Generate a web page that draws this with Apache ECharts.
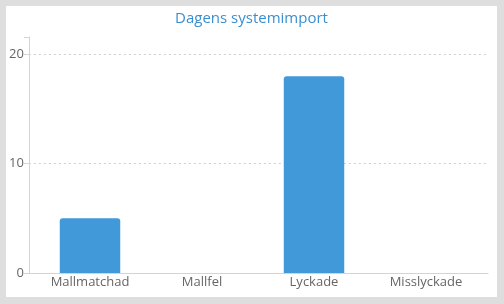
<!DOCTYPE html>
<html><head><meta charset="utf-8">
<script src="https://cdn.jsdelivr.net/npm/echarts@6/dist/echarts.min.js"></script>
<style>
html,body{margin:0;padding:0;background:#fff;}
#wrap{width:504px;height:304px;box-sizing:border-box;border-style:solid;border-color:#dedede;border-width:6px 7px 7px 6px;background:#fff;}
#c{width:491px;height:291px;}
</style></head><body>
<div id="wrap"><div id="c"></div></div>
<script>
var categories = ['Mallmatchad', 'Mallfel', 'Lyckade', 'Misslyckade'];
var values = [5, 0, 18, 0];
var titleText = 'Dagens systemimport';
var yMax = 21.6;
var yStep = 10;

var font = 'Open Sans';
var chart = echarts.init(document.getElementById('c'));
chart.setOption({
  animation: false,
  title: {text: titleText, left: 'center', top: 0,
    textStyle: {color: '#3a8fd0', fontSize: 15, fontWeight: 'normal', fontFamily: font}},
  grid: [
    {left: 22.5, right: 9, top: 31, bottom: 24},
    {left: 28, right: 15, top: 31, bottom: 24}
  ],
  xAxis: [
    {type: 'value', gridIndex: 0, min: 0, max: 1,
      axisLine: {show: true, lineStyle: {color: '#d4d4d4'}}, axisTick: {show: false},
      axisLabel: {show: false}, splitLine: {show: false}},
    {type: 'category', gridIndex: 1, data: categories,
      axisLine: {show: false}, axisTick: {show: false},
      axisLabel: {color: '#666', fontSize: 13, fontFamily: font, margin: 3}}
  ],
  yAxis: [
    {type: 'value', gridIndex: 0, min: 0, max: yMax, interval: yStep,
      axisLine: {show: true, lineStyle: {color: '#d4d4d4'}},
      axisLabel: {color: '#666', fontSize: 13, fontFamily: font, margin: 5,
        formatter: function(v){ return v % yStep === 0 ? String(v) : ''; }},
      splitLine: {show: true, showMinLine: false, showMaxLine: false, lineStyle: {type: [2, 3], color: '#cfcfcf'}}},
    {type: 'value', gridIndex: 1, min: 0, max: yMax, interval: yStep,
      axisLine: {show: false}, axisLabel: {show: false}, splitLine: {show: false}, axisTick: {show: false}}
  ],
  series: [{type: 'bar', xAxisIndex: 1, yAxisIndex: 1, data: values, barWidth: '54%',
    itemStyle: {color: '#4299d9', borderRadius: [3, 3, 0, 0]}}]
});
</script></body></html>
